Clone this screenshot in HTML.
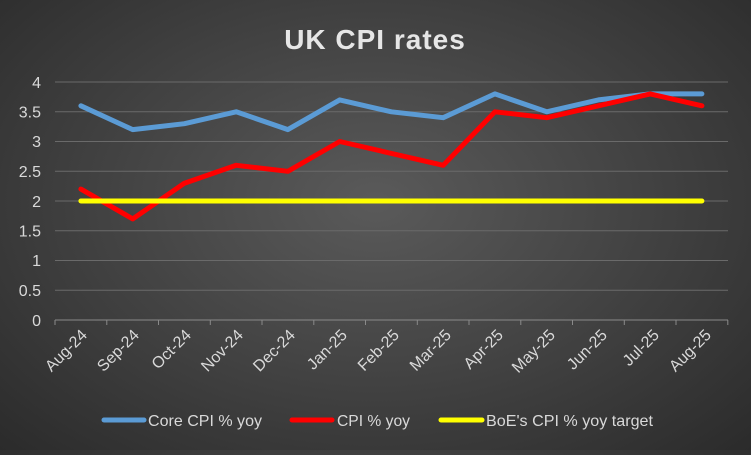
<!DOCTYPE html>
<html><head><style>
html,body{margin:0;padding:0;}
body{width:751px;height:450px;overflow:hidden;background:radial-gradient(ellipse at 50% 45%,#5a5a5a 0%,#454545 45%,#2b2b2b 100%);font-family:"Liberation Sans",sans-serif;}
</style></head><body>
<svg width="751" height="450" xmlns="http://www.w3.org/2000/svg" font-family="Liberation Sans, sans-serif">
<text x="375" y="49" text-anchor="middle" font-size="28" font-weight="bold" fill="#e6e6e6" letter-spacing="1">UK CPI rates</text>
<g stroke="#6a6a6a" stroke-width="1">
<line x1="55" x2="728" y1="82" y2="82"/><line x1="55" x2="728" y1="111.75" y2="111.75"/>
<line x1="55" x2="728" y1="141.5" y2="141.5"/><line x1="55" x2="728" y1="171.25" y2="171.25"/>
<line x1="55" x2="728" y1="201" y2="201"/><line x1="55" x2="728" y1="230.75" y2="230.75"/>
<line x1="55" x2="728" y1="260.5" y2="260.5"/><line x1="55" x2="728" y1="290.25" y2="290.25"/>
</g>
<g stroke="#8a8a8a" stroke-width="1">
<line x1="55" x2="728" y1="320" y2="320"/>
<path d="M55 320v5M106.8 320v5M158.5 320v5M210.3 320v5M262 320v5M313.8 320v5M365.5 320v5M417.3 320v5M469 320v5M520.8 320v5M572.5 320v5M624.3 320v5M676 320v5M727.8 320v5"/>
</g>
<g fill="#d9d9d9" font-size="16" text-anchor="end">
<text x="41" y="88">4</text><text x="41" y="117.5">3.5</text><text x="41" y="147">3</text>
<text x="41" y="177">2.5</text><text x="41" y="207">2</text><text x="41" y="236.5">1.5</text>
<text x="41" y="266">1</text><text x="41" y="296">0.5</text><text x="41" y="326">0</text>
</g>
<g fill="#d9d9d9" font-size="16" text-anchor="end">
<text transform="translate(88,336) rotate(-45)">Aug-24</text>
<text transform="translate(140,336) rotate(-45)">Sep-24</text>
<text transform="translate(192,336) rotate(-45)">Oct-24</text>
<text transform="translate(244,336) rotate(-45)">Nov-24</text>
<text transform="translate(296,336) rotate(-45)">Dec-24</text>
<text transform="translate(348,336) rotate(-45)">Jan-25</text>
<text transform="translate(400,336) rotate(-45)">Feb-25</text>
<text transform="translate(452,336) rotate(-45)">Mar-25</text>
<text transform="translate(504,336) rotate(-45)">Apr-25</text>
<text transform="translate(556,336) rotate(-45)">May-25</text>
<text transform="translate(608,336) rotate(-45)">Jun-25</text>
<text transform="translate(660,336) rotate(-45)">Jul-25</text>
<text transform="translate(712,336) rotate(-45)">Aug-25</text>
</g>
<g fill="none" stroke-width="5" stroke-linejoin="round" stroke-linecap="round">
<polyline stroke="#5b9bd5" points="80.9,105.8 132.7,129.6 184.4,123.7 236.2,111.8 287.9,129.6 339.7,99.9 391.4,111.8 443.2,117.7 494.9,93.9 546.7,111.8 598.4,99.9 650.2,93.9 701.9,93.9"/>
<polyline stroke="#ff0000" points="80.9,189.1 132.7,218.9 184.4,183.2 236.2,165.3 287.9,171.3 339.7,141.5 391.4,153.4 443.2,165.3 494.9,111.8 546.7,117.7 598.4,105.8 650.2,93.9 701.9,105.8"/>
<polyline stroke="#ffff00" points="80.9,201 701.9,201"/>
</g>
<g stroke-width="5" stroke-linecap="round">
<line x1="104" x2="144" y1="420" y2="420" stroke="#5b9bd5"/>
<line x1="292" x2="332" y1="420" y2="420" stroke="#ff0000"/>
<line x1="441" x2="482" y1="420" y2="420" stroke="#ffff00"/>
</g>
<g fill="#d9d9d9" font-size="16">
<text x="148" y="426" textLength="114" lengthAdjust="spacingAndGlyphs">Core CPI % yoy</text>
<text x="337" y="426" textLength="73" lengthAdjust="spacingAndGlyphs">CPI % yoy</text>
<text x="486" y="426" textLength="167" lengthAdjust="spacingAndGlyphs">BoE's CPI % yoy target</text>
</g>
</svg>
</body></html>
